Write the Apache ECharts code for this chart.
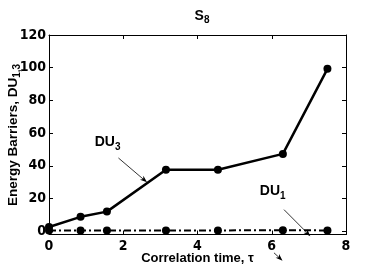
<!DOCTYPE html>
<html><head><meta charset="utf-8">
<script src="https://cdn.jsdelivr.net/npm/echarts@6/dist/echarts.min.js"></script>
<style>html,body{margin:0;padding:0;background:#fff}#c{width:382px;height:273px}</style>
</head><body><div id="c"></div>
<script>
// data
const tau = [0, 0.85, 1.56, 3.15, 4.55, 6.3, 7.5];
const du3 = [2.6, 8.8, 12.0, 37.6, 37.6, 47.3, 99.3];
const du1 = [0.5, 0.5, 0.5, 0.5, 0.5, 0.6, 0.5];
const xTickLabels = ['0', '2', '4', '6', '8'];
const yTickLabels = ['0', '20', '40', '60', '80', '100', '120'];

const narrow = "'Liberation Sans Narrow','DejaVu Sans Condensed','Liberation Sans',sans-serif";
const bold = "'Liberation Sans',Arial,sans-serif";

const chart = echarts.init(document.getElementById('c'), null, {renderer: 'canvas'});
const axisCommon = {
  axisLine: {show: true, onZero: false, lineStyle: {color: '#000', width: 1}},
  axisTick: {show: true, inside: true, length: 4, lineStyle: {color: '#000', width: 1}},
  splitLine: {show: false}
};
chart.setOption({
  animation: false,
  backgroundColor: '#fff',
  title: {
    text: '{s|S}{sub|8}', left: 197, top: 2, textAlign: 'center',
    textStyle: {rich: {
      s: {fontFamily: bold, fontWeight: 'bold', fontSize: 14, color: '#000'},
      sub: {fontFamily: bold, fontWeight: 'bold', fontSize: 10, color: '#000', padding: [8, 0, 0, 0]}
    }}
  },
  grid: {left: 49, right: 36, top: 35, bottom: 38.5, show: false, containLabel: false, outerBoundsMode: 'none'},
  xAxis: [
    Object.assign({}, axisCommon, {
      type: 'value', min: 0, max: 8, interval: 2, position: 'bottom',
      axisLabel: {color: '#000', fontFamily: narrow, fontWeight: 'bold', fontSize: 14, margin: 5,
        formatter: v => xTickLabels[xTickLabels.indexOf(String(v))] || ''},
      name: 'Correlation time, \u03c4', nameLocation: 'middle', nameGap: 17, nameMoveOverlap: false,
      nameTextStyle: {color: '#000', fontFamily: bold, fontWeight: 'bold', fontSize: 13}
    }),
    Object.assign({}, axisCommon, {
      type: 'value', min: 0, max: 8, interval: 2, position: 'top', axisLabel: {show: false}
    })
  ],
  yAxis: [
    Object.assign({}, axisCommon, {
      type: 'value', min: -2, max: 120, splitNumber: 6, position: 'left',
      axisLabel: {color: '#000', fontFamily: narrow, fontWeight: 'bold', fontSize: 14, margin: 3,
        showMinLabel: true,
        formatter: v => yTickLabels.indexOf(String(v)) >= 0 ? String(v) : ''}
    }),
    Object.assign({}, axisCommon, {
      type: 'value', min: -2, max: 120, splitNumber: 6, position: 'right', axisLabel: {show: false}
    })
  ],
  series: [
    {
      type: 'line', name: 'DU3', data: tau.map((t, i) => [t, du3[i]]),
      symbol: 'circle', symbolSize: 8, showAllSymbol: true, clip: false,
      lineStyle: {color: '#000', width: 2.5}, itemStyle: {color: '#000'}
    },
    {
      type: 'line', name: 'DU1', data: tau.map((t, i) => [t, du1[i]]),
      symbol: 'circle', symbolSize: 8, showAllSymbol: true, clip: false,
      lineStyle: {color: '#000', width: 2, type: [7, 3, 2, 3]}, itemStyle: {color: '#000'}
    }
  ]
});

// annotations (data coordinates of text and arrows)
const annotations = [
  {label: 'DU', sub: '3', at: [1.23, 54.5], from: [1.87, 44.8], to: [2.64, 29.9]},
  {label: 'DU', sub: '1', at: [5.68, 24.5], from: [6.33, 13.2], to: [7.04, -3.0]},
  {label: null, from: [6.06, -13.2], to: [6.29, -18.0]}
];
const els = [];
annotations.forEach(a => {
  const p0 = chart.convertToPixel({gridIndex: 0}, a.from);
  const p1 = chart.convertToPixel({gridIndex: 0}, a.to);
  const dx = p1[0] - p0[0], dy = p1[1] - p0[1];
  const L = Math.hypot(dx, dy), ux = dx / L, uy = dy / L;
  const hl = 7, hw = 2.6;
  const bx = p1[0] - ux * hl, by = p1[1] - uy * hl;
  els.push({type: 'line', shape: {x1: p0[0], y1: p0[1], x2: bx + ux * 2, y2: by + uy * 2},
    style: {stroke: '#000', lineWidth: 0.8}});
  els.push({type: 'polygon', shape: {points: [
    [p1[0], p1[1]], [bx - uy * hw, by + ux * hw], [bx + ux * 2, by + uy * 2], [bx + uy * hw, by - ux * hw]
  ]}, style: {fill: '#000'}});
  if (a.label) {
    const t = chart.convertToPixel({gridIndex: 0}, a.at);
    els.push({type: 'text', x: t[0], y: t[1], style: {
      text: '{m|' + a.label + '}{s|' + a.sub + '}', align: 'left', verticalAlign: 'middle',
      rich: {
        m: {fontFamily: bold, fontWeight: 'bold', fontSize: 14, fill: '#000'},
        s: {fontFamily: bold, fontWeight: 'bold', fontSize: 10, fill: '#000', padding: [10, 0, 0, 0]}
      }
    }});
  }
});
// y-axis title
els.push({type: 'text', x: 13, y: 135, rotation: Math.PI / 2, style: {
  text: '{m|Energy Barriers, DU}{s|1,3}', align: 'center', verticalAlign: 'middle',
  rich: {
    m: {fontFamily: bold, fontWeight: 'bold', fontSize: 13.5, fill: '#000'},
    s: {fontFamily: bold, fontWeight: 'bold', fontSize: 10, fill: '#000', padding: [9, 0, 0, 0]}
  }
}});
chart.setOption({graphic: els});
</script>
</body></html>
